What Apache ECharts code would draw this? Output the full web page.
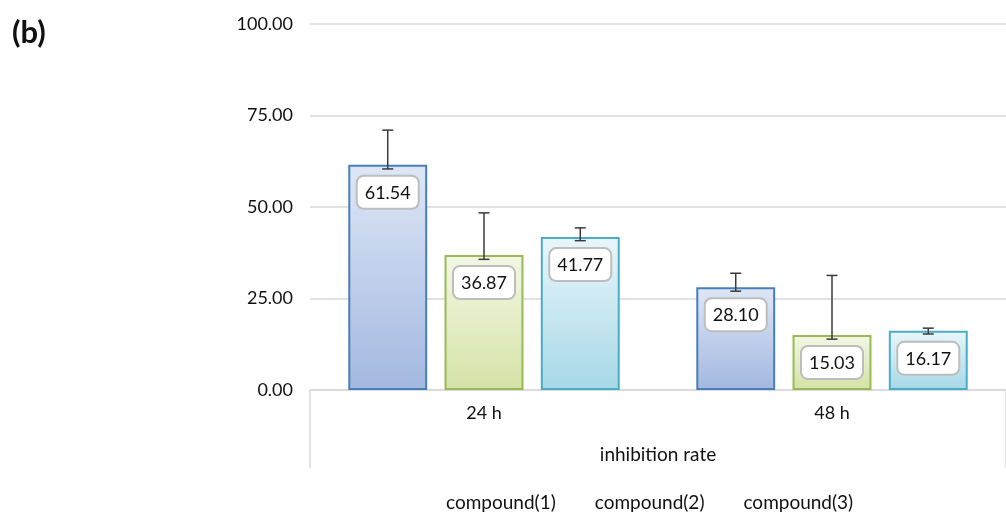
<!DOCTYPE html>
<html><head><meta charset="utf-8">
<script src="https://cdn.jsdelivr.net/npm/echarts@6/dist/echarts.min.js"></script>
<style>html,body{margin:0;padding:0;background:#fff}#c{width:1006px;height:519px}</style>
</head><body><div id="c"></div>
<script>
const categories = ['24 h', '48 h'];
const groupLabel = ['inhibition rate'];
const seriesNames = ['compound(1)', 'compound(2)', 'compound(3)'];
const values1 = [61.54, 28.10];
const values2 = [36.87, 15.03];
const values3 = [41.77, 16.17];
const errLow1 = [60.4, 27.0];
const errHigh1 = [71.0, 31.9];
const errLow2 = [35.7, 13.9];
const errHigh2 = [48.4, 31.3];
const errLow3 = [40.8, 15.3];
const errHigh3 = [44.3, 16.9];
const yTicks = [0, 25, 50, 75, 100];

const FONT = 'Lato';
const styles = [
  {top: '#dde7f6', bottom: '#a3b8e0', border: '#4a7ebb'},
  {top: '#f2f7e4', bottom: '#d5e2a6', border: '#98b954'},
  {top: '#e9f6fb', bottom: '#a6d8e7', border: '#4bacc6'}
];
const vals = [values1, values2, values3];
const lows = [errLow1, errLow2, errLow3];
const highs = [errHigh1, errHigh2, errHigh3];
const CAT_GAP = 0.22, BAR_GAP = 0.22;

const series = vals.map((v, i) => ({
  name: seriesNames[i], type: 'bar', xAxisIndex: 0, data: v,
  barCategoryGap: (CAT_GAP * 100) + '%', barGap: (BAR_GAP * 100) + '%',
  itemStyle: {
    color: new echarts.graphic.LinearGradient(0, 0, 0, 1, [
      {offset: 0, color: styles[i].top}, {offset: 1, color: styles[i].bottom}]),
    borderColor: styles[i].border, borderWidth: 2
  },
  label: {
    show: true, position: 'insideTop', distance: 12,
    formatter: p => p.value.toFixed(2),
    fontFamily: FONT, fontSize: 18, color: '#111',
    backgroundColor: '#fff', borderColor: '#bdbdbd', borderWidth: 2, borderRadius: 6,
    padding: [7, 7, 6, 7]
  },
  z: 2
}));

const errData = [];
for (let s = 0; s < 3; s++) for (let c = 0; c < categories.length; c++) errData.push([c, lows[s][c], highs[s][c], s]);

series.push({
  type: 'custom', xAxisIndex: 0, yAxisIndex: 0, z: 3, silent: true,
  data: errData, encode: {x: 0, y: [1, 2]},
  renderItem: function (params, api) {
    const c = api.value(0), lo = api.value(1), hi = api.value(2), s = api.value(3);
    const band = api.size([1, 0])[0];
    const barW = band * (1 - CAT_GAP) / (3 + 2 * BAR_GAP);
    const off = (s - 1) * barW * (1 + BAR_GAP);
    const pLo = api.coord([c, lo]), pHi = api.coord([c, hi]);
    const x = pLo[0] + off, hw = 5.5;
    const st = {stroke: '#3a3a3a', lineWidth: 1.5};
    return {type: 'group', children: [
      {type: 'line', shape: {x1: x, y1: pLo[1], x2: x, y2: pHi[1]}, style: st},
      {type: 'line', shape: {x1: x - hw, y1: pLo[1], x2: x + hw, y2: pLo[1]}, style: st},
      {type: 'line', shape: {x1: x - hw, y1: pHi[1], x2: x + hw, y2: pHi[1]}, style: st}
    ]};
  }
});

const chart = echarts.init(document.getElementById('c'), null, {renderer: 'canvas'});
chart.setOption({
  animation: false,
  textStyle: {fontFamily: FONT},
  title: {text: '(b)', left: 7, top: 12, textStyle: {fontFamily: FONT, fontWeight: 'bold', fontSize: 31, color: '#111'}},
  grid: {left: 310, right: -14, top: 24, bottom: 129, containLabel: false},
  legend: {
    data: seriesNames, bottom: 2, left: 435, itemWidth: 0, itemHeight: 0, itemGap: 33,
    textStyle: {fontFamily: FONT, fontSize: 19, color: '#111'}
  },
  xAxis: [
    {type: 'category', data: categories, position: 'bottom',
     axisLine: {show: true, lineStyle: {color: '#d9d9d9', width: 1.5}},
     axisTick: {show: false},
     axisLabel: {fontFamily: FONT, fontSize: 18, color: '#111', margin: 14}},
    {type: 'category', data: groupLabel, position: 'bottom', gridIndex: 0,
     axisLine: {show: false},
     axisTick: {show: true, length: 78, lineStyle: {color: '#d9d9d9', width: 1.5}},
     axisLabel: {fontFamily: FONT, fontSize: 19, color: '#111', margin: 55}}
  ],
  yAxis: {type: 'value', min: yTicks[0], max: yTicks[yTicks.length - 1], interval: 25,
    axisLine: {show: false}, axisTick: {show: false},
    splitLine: {lineStyle: {color: '#d9d9d9', width: 1.5}},
    axisLabel: {fontFamily: FONT, fontSize: 18, color: '#111', margin: 17, formatter: v => v.toFixed(2)}},
  series: series
});
</script></body></html>
